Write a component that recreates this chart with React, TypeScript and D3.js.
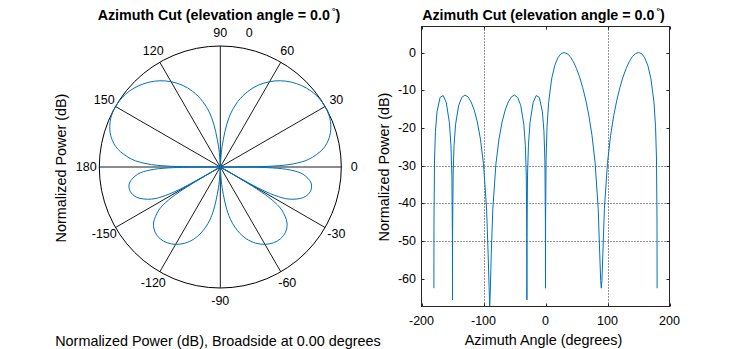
import React from "react";
import * as d3 from "d3";

// Azimuth angle samples (degrees) and normalized power (dB)
const azimuthDeg = [
  -180, -179.85, -179, -177.5, -175, -170, -165, -160, -155, -152.5, -151, -150.15, -150,
  -149.85, -149, -147.5, -145, -140, -135, -130, -125, -120, -115, -110, -105, -100, -95,
  -92.5, -91, -90, -89, -87.5, -85, -80, -75, -70, -65, -60, -55, -50, -45, -40, -35,
  -32.5, -31, -30.15, -30, -29.85, -29, -27.5, -25, -20, -15, -10, -5, -2.5, -1, -0.15, 0,
  0.15, 1, 2.5, 5, 10, 15, 20, 25, 30, 35, 40, 45, 50, 55, 60, 65, 70, 75, 80, 85, 87.5,
  89, 90, 91, 92.5, 95, 100, 105, 110, 115, 120, 125, 130, 135, 140, 145, 150, 155, 160,
  165, 170, 175, 177.5, 179, 179.85, 180,
];
const powerDb = [
  -62.5, -44.7, -28.5, -20.9, -15.7, -11.9, -11.4, -13.3, -18.6, -24.6, -32.5, -49, -65.6,
  -49, -32.5, -24.6, -19.0, -14.0, -11.9, -11.3, -11.75, -13.1, -15.25, -18.4, -22.9, -29.6, -41.5,
  -53.5, -62, -67.4, -63, -53.5, -41.5, -29.6, -22.9, -18.4, -15.25, -13.1, -11.75, -11.3, -11.9, -14.0, -19.0,
  -24.6, -32.5, -49, -65.6, -49, -32.5, -24.6, -18.6, -13.3, -11.4, -11.9, -15.7, -20.9, -28.5, -44.7, -62.5,
  -44.7, -28.0, -19.7, -13.3, -6.9, -3.4, -1.4, -0.3, 0, -0.3, -1.1, -2.45, -4.25, -6.5, -9.3, -12.65, -16.8, -22.0, -29.2, -41.4, -53.5,
  -60.5, -62.5, -60.5, -53.5, -41.4, -29.2, -22.0, -16.8, -12.65, -9.3, -6.5, -4.25, -2.45, -1.1, -0.3, 0, -0.3, -1.4,
  -3.4, -6.9, -13.3, -19.7, -28.0, -44.7, -62.5,
];

const xTicks = [-200, -100, 0, 100, 200];
const yTicks = [0, -10, -20, -30, -40, -50, -60];
const xGrid = [-100, 100];
const yGrid = [-30, -40, -50];
const polarSpokes = [0, 30, 60, 90, 120, 150, 180, 210, 240, 270, 300, 330];
const polarLabels = ["0", "30", "60", "90", "120", "150", "180", "-150", "-120", "-90", "-60", "-30"];
const polarRangeDb = [-50, 0];

const titleText = "Azimuth Cut (elevation angle = 0.0";
const blue = "#0072BD";
const font = "'Liberation Sans', Arial, Helvetica, sans-serif";

export default function App() {
  const data = azimuthDeg.map((a, i) => ({ az: a, db: powerDb[i] }));

  // ---- polar plot ----
  const cx = 220.3;
  const cy = 167;
  const R = 121;
  const rScale = d3.scaleLinear().domain(polarRangeDb).range([0, R]).clamp(true);
  const polarLine = d3
    .lineRadial<{ az: number; db: number }>()
    .angle((d) => ((90 - d.az) * Math.PI) / 180)
    .radius((d) => rScale(d.db))
    .curve(d3.curveCatmullRom.alpha(0.5));
  const polarPath = polarLine(data) || "";

  // ---- cartesian plot ----
  const x0 = 421.5, x1 = 669.5, yTop = 26.5, yBot = 306.5;
  const xScale = d3.scaleLinear().domain([-200, 200]).range([x0, x1]);
  const yScale = d3.scaleLinear().domain([-67.35, 6.9]).range([yBot, yTop]);
  const line = d3
    .line<{ az: number; db: number }>()
    .x((d) => xScale(d.az))
    .y((d) => yScale(d.db));
  const cartPath = line(data) || "";
  const tl = 3;

  return (
    <svg
      width={738}
      height={349}
      style={{ position: "absolute", left: 0, top: 0, background: "#fff" }}
      fontFamily={font}
    >
      <rect x={0} y={0} width={738} height={349} fill="#fff" />
      {/* ================= Left: polar ================= */}
      <text x={219} y={20} textAnchor="middle" fontSize={14.3} fontWeight="bold" fill="#000">
        {titleText}
        <tspan dx={2} dy={-6} fontSize={9}>°</tspan>
        <tspan dy={6}>)</tspan>
      </text>
      <circle cx={cx} cy={cy} r={R} fill="none" stroke="#000" strokeWidth={1} />
      {polarSpokes.map((a) => {
        const t = (a * Math.PI) / 180;
        return (
          <line
            key={a}
            x1={cx}
            y1={cy}
            x2={cx + R * Math.cos(t)}
            y2={cy - R * Math.sin(t)}
            stroke="#000"
            strokeWidth={0.9}
          />
        );
      })}
      {polarSpokes.map((a, i) => {
        const t = (a * Math.PI) / 180;
        return (
          <text
            key={"l" + a}
            x={cx + 134 * Math.cos(t)}
            y={cy - 134 * Math.sin(t)}
            textAnchor="middle"
            dominantBaseline="central"
            fontSize={12.5}
            fill="#000"
          >
            {polarLabels[i]}
          </text>
        );
      })}
      <text x={249.3} y={33} textAnchor="middle" dominantBaseline="central" fontSize={12.5} fill="#000">
        0
      </text>
      <path
        d={polarPath}
        transform={`translate(${cx},${cy})`}
        fill="none"
        stroke={blue}
        strokeWidth={1}
      />
      <text
        transform={`translate(66,168) rotate(-90)`}
        textAnchor="middle"
        fontSize={14.4}
        fill="#000"
      >
        Normalized Power (dB)
      </text>
      <text x={218} y={346} textAnchor="middle" fontSize={14.4} fill="#000">
        Normalized Power (dB), Broadside at 0.00 degrees
      </text>

      {/* ================= Right: cartesian ================= */}
      <text x={543.5} y={20} textAnchor="middle" fontSize={14.3} fontWeight="bold" fill="#000">
        {titleText}
        <tspan dx={2} dy={-6} fontSize={9}>°</tspan>
        <tspan dy={6}>)</tspan>
      </text>
      <defs>
        <clipPath id="plotClip">
          <rect x={x0} y={yTop} width={x1 - x0} height={yBot - yTop} />
        </clipPath>
      </defs>
      {xGrid.map((v) => (
        <line
          key={"gx" + v}
          x1={Math.round(xScale(v)) + 0.5}
          x2={Math.round(xScale(v)) + 0.5}
          y1={yTop}
          y2={yBot}
          stroke="#262626"
          strokeWidth={1}
          strokeDasharray="1,2"
        />
      ))}
      {yGrid.map((v) => (
        <line
          key={"gy" + v}
          x1={x0}
          x2={x1}
          y1={Math.round(yScale(v)) + 0.5}
          y2={Math.round(yScale(v)) + 0.5}
          stroke="#262626"
          strokeWidth={1}
          strokeDasharray="1,2"
        />
      ))}
      <path d={cartPath} fill="none" stroke={blue} strokeWidth={1} clipPath="url(#plotClip)" />
      <rect x={x0} y={yTop} width={x1 - x0} height={yBot - yTop} fill="none" stroke="#262626" strokeWidth={1} />
      {xTicks.map((v) => {
        const x = Math.round(xScale(v)) + 0.5;
        return (
          <g key={"xt" + v}>
            <line x1={x} x2={x} y1={yBot} y2={yBot - tl} stroke="#262626" />
            <line x1={x} x2={x} y1={yTop} y2={yTop + tl} stroke="#262626" />
            <text x={xScale(v)} y={325} textAnchor="middle" fontSize={12.5} fill="#000">
              {v}
            </text>
          </g>
        );
      })}
      {yTicks.map((v) => {
        const y = Math.round(yScale(v)) + 0.5;
        return (
          <g key={"yt" + v}>
            <line x1={x0} x2={x0 + tl} y1={y} y2={y} stroke="#262626" />
            <line x1={x1} x2={x1 - tl} y1={y} y2={y} stroke="#262626" />
            <text
              x={416}
              y={yScale(v)}
              textAnchor="end"
              dominantBaseline="central"
              fontSize={12.5}
              fill="#000"
            >
              {v}
            </text>
          </g>
        );
      })}
      <text
        transform={`translate(388.5,167) rotate(-90)`}
        textAnchor="middle"
        fontSize={14.4}
        fill="#000"
      >
        Normalized Power (dB)
      </text>
      <text x={543.5} y={344.5} textAnchor="middle" fontSize={14.4} fill="#000">
        Azimuth Angle (degrees)
      </text>
    </svg>
  );
}
